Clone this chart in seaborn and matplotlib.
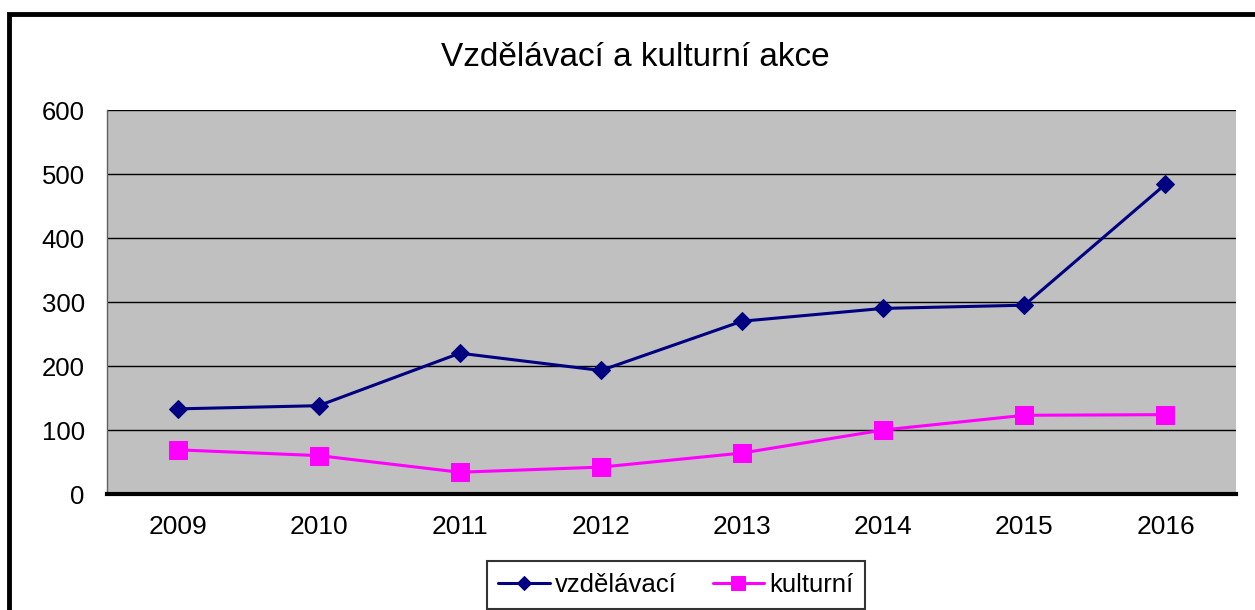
import matplotlib
matplotlib.use("Agg")
import matplotlib.pyplot as plt
from matplotlib.patches import Rectangle
from matplotlib.ticker import FixedLocator
import pandas as pd
import seaborn as sns

# data
years = [2009, 2010, 2011, 2012, 2013, 2014, 2015, 2016]
vzdelavaci = [133, 138, 220, 193, 270, 290, 295, 484]
kulturni = [69, 60, 34, 42, 64, 100, 123, 124]
series_names = ["vzdělávací", "kulturní"]

df = pd.DataFrame({
    "rok": years * 2,
    "pocet": vzdelavaci + kulturni,
    "druh": [series_names[0]] * len(years) + [series_names[1]] * len(years),
})

sns.set_style("white")
plt.rcParams["font.family"] = ["Liberation Sans", "DejaVu Sans"]
plt.rcParams["text.color"] = "black"
plt.rcParams["xtick.color"] = "black"
plt.rcParams["ytick.color"] = "black"
plt.rcParams["axes.labelcolor"] = "black"

fig = plt.figure(figsize=(12.55, 6.10), dpi=100)
ax = fig.add_axes([107 / 1255, 116 / 610, 1129 / 1255, 384 / 610])
ax.set_facecolor("#C0C0C0")

palette = {series_names[0]: "#000080", series_names[1]: "#FF00FF"}
markers = {series_names[0]: "D", series_names[1]: "s"}
sizes_ms = {series_names[0]: 9, series_names[1]: 13}

for name in series_names:
    sub = df[df["druh"] == name]
    sns.lineplot(data=sub, x="rok", y="pocet", ax=ax, color=palette[name],
                 marker=markers[name], markersize=sizes_ms[name],
                 markeredgecolor=palette[name], linewidth=2.2, label=name,
                 legend=False)

ax.set_xlim(years[0] - 0.5, years[-1] + 0.5)
ax.set_ylim(0, 600)
ax.set_yticks(range(0, 601, 100))
ax.set_xticks(years)
ax.xaxis.set_minor_locator(FixedLocator([y - 0.5 for y in years] + [years[-1] + 0.5]))
ax.grid(axis="y", color="black", linewidth=1.0)
ax.set_axisbelow(True)
ax.set_xlabel("")
ax.set_ylabel("")

for s in ["top", "right"]:
    ax.spines[s].set_visible(False)
ax.spines["bottom"].set_linewidth(3)
ax.spines["bottom"].set_color("black")
ax.spines["left"].set_color("#606060")
ax.spines["left"].set_linewidth(1)

ax.tick_params(axis="x", which="major", length=0, pad=15, labelsize=19)
ax.tick_params(axis="x", which="minor", length=8, width=1.2, color="black", direction="out")
ax.tick_params(axis="y", which="major", length=7, width=1.2, color="black",
               direction="out", pad=9, labelsize=18.5)

fig.text(635 / 1255, 1 - 57 / 610, "Vzdělávací a kulturní akce", ha="center",
         va="center", fontsize=24, color="black")

handles, labels = ax.get_legend_handles_labels()
leg = fig.legend(handles, labels, loc="center", bbox_to_anchor=(676 / 1255, 1 - 585 / 610),
                 ncol=2, frameon=True, fancybox=False, fontsize=18.5, handlelength=2.0,
                 columnspacing=1.4, borderpad=0.45, handletextpad=0.2)
leg.get_frame().set_edgecolor("black")
leg.get_frame().set_linewidth(1.5)
for h in leg.legend_handles:
    h.set_markersize(h.get_markersize() * 0.8)

fig.patches.append(Rectangle((9 / 1255, -0.05), 1.2, 1 - 14 / 610 + 0.05,
                             transform=fig.transFigure, fill=False,
                             edgecolor="black", linewidth=3.5))

fig.savefig("out.png", dpi=100)
